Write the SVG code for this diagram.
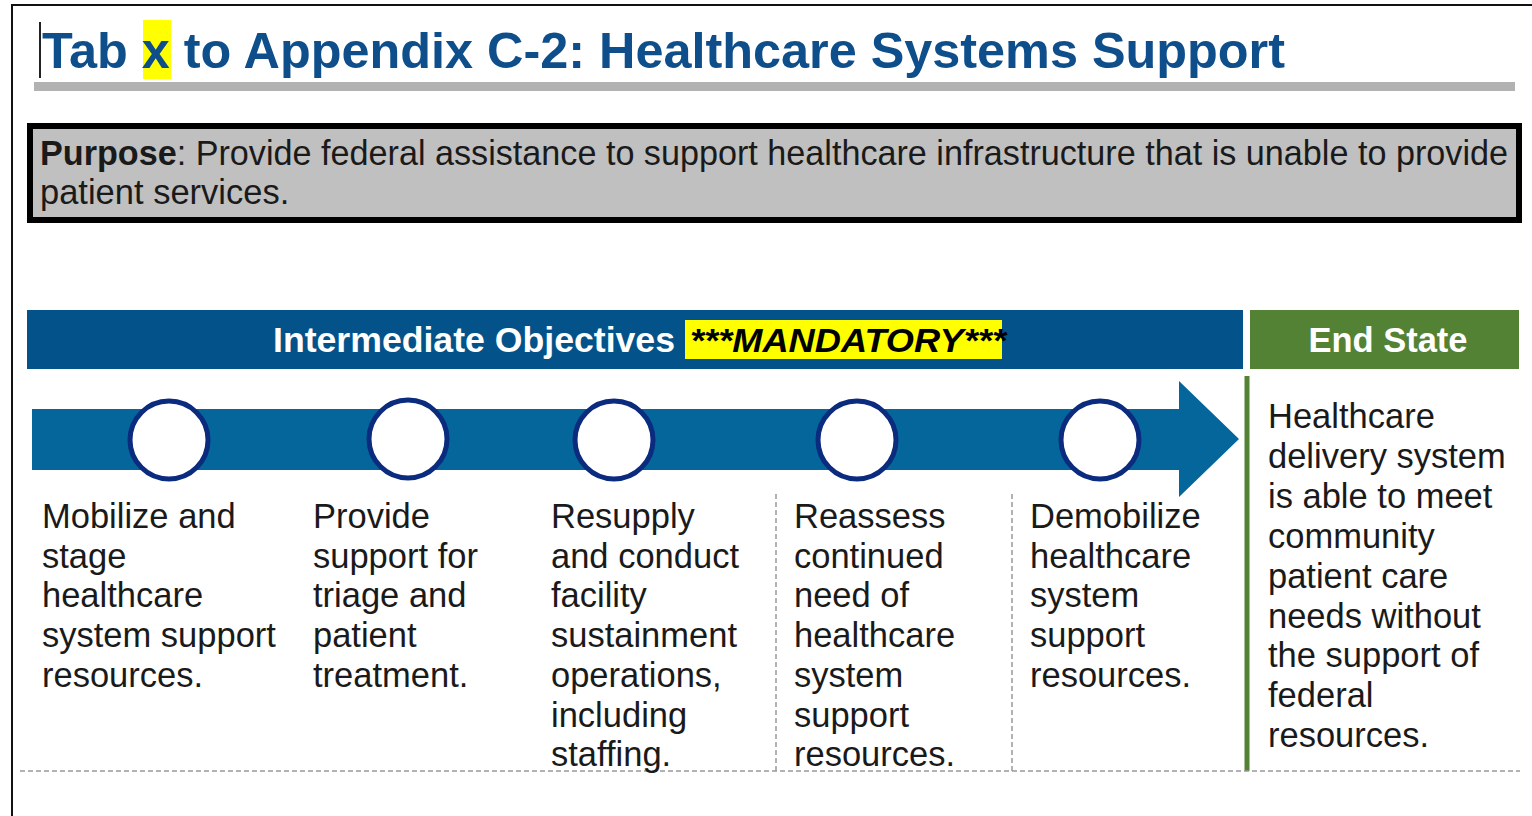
<svg xmlns="http://www.w3.org/2000/svg" width="1532" height="816" viewBox="0 0 1532 816">
<style>
.body{font-family:"Liberation Sans",Arial,sans-serif;font-size:34.5px;fill:#1a1a1a}
.hdr{font-family:"Liberation Sans",Arial,sans-serif;font-size:34.5px;font-weight:bold;fill:#ffffff}
.circ{fill:#ffffff;stroke:#0b2b7e;stroke-width:5}
.dash{stroke:#999999;stroke-width:1.5;stroke-dasharray:5,3;fill:none}
</style>
<rect x="0" y="0" width="1532" height="816" fill="#ffffff"/>
<path d="M12,816 V5 H1532" fill="none" stroke="#111111" stroke-width="2"/>
<g id="title">
<rect x="143" y="20" width="28" height="59" fill="#ffff00"/>
<line x1="40" y1="22" x2="40" y2="78" stroke="#222222" stroke-width="2"/>
<text x="42" y="68" font-family="'Liberation Sans',Arial,sans-serif" font-size="50" font-weight="bold" fill="#0e4f8b" textLength="1243" lengthAdjust="spacingAndGlyphs">Tab x to Appendix C-2: Healthcare Systems Support</text>
<rect x="34" y="82" width="1481" height="9" fill="#b2b2b2"/>
</g>
<g id="purpose">
<rect x="30" y="126" width="1489" height="94" fill="#c0c0c0" stroke="#000000" stroke-width="6"/>
<text class="body" x="40" y="165" textLength="1468" lengthAdjust="spacingAndGlyphs"><tspan font-weight="bold">Purpose</tspan>: Provide federal assistance to support healthcare infrastructure that is unable to provide</text>
<text class="body" x="40" y="204">patient services.</text>
</g>
<g id="header-objectives">
<rect x="27" y="310" width="1216" height="59" fill="#03538a"/>
<text class="hdr" x="273" y="352" textLength="402" lengthAdjust="spacingAndGlyphs">Intermediate Objectives</text>
<rect x="685" y="320" width="317" height="39" fill="#ffff00"/>
<text x="690" y="352" font-family="'Liberation Sans',Arial,sans-serif" font-size="34" font-weight="bold" font-style="italic" fill="#000000" textLength="316" lengthAdjust="spacingAndGlyphs">***MANDATORY***</text>
</g>
<g id="header-endstate">
<rect x="1250" y="310" width="269" height="59" fill="#548235"/>
<text class="hdr" x="1388" y="352" text-anchor="middle">End State</text>
</g>
<g id="connectors">
<polygon points="32,409 1179,409 1179,381 1239,439 1179,497 1179,470 32,470" fill="#04669a"/>
<line x1="1247" y1="376" x2="1247" y2="771" stroke="#548235" stroke-width="5"/>
<line class="dash" x1="20" y1="771" x2="1520" y2="771"/>
<line class="dash" x1="776" y1="494" x2="776" y2="771"/>
<line class="dash" x1="1012" y1="494" x2="1012" y2="771"/>
</g>
<g id="obj1">
<circle class="circ" cx="169" cy="440" r="39"/>
<text class="body" x="42" y="528"><tspan x="42">Mobilize and</tspan><tspan x="42" dy="39.7">stage</tspan><tspan x="42" dy="39.7">healthcare</tspan><tspan x="42" dy="39.7">system support</tspan><tspan x="42" dy="39.7">resources.</tspan></text>
</g>
<g id="obj2">
<circle class="circ" cx="408" cy="439" r="39"/>
<text class="body" x="313" y="528"><tspan x="313">Provide</tspan><tspan x="313" dy="39.7">support for</tspan><tspan x="313" dy="39.7">triage and</tspan><tspan x="313" dy="39.7">patient</tspan><tspan x="313" dy="39.7">treatment.</tspan></text>
</g>
<g id="obj3">
<circle class="circ" cx="614" cy="440" r="39"/>
<text class="body" x="551" y="528"><tspan x="551">Resupply</tspan><tspan x="551" dy="39.7">and conduct</tspan><tspan x="551" dy="39.7">facility</tspan><tspan x="551" dy="39.7">sustainment</tspan><tspan x="551" dy="39.7">operations,</tspan><tspan x="551" dy="39.7">including</tspan><tspan x="551" dy="39.7">staffing.</tspan></text>
</g>
<g id="obj4">
<circle class="circ" cx="857" cy="440" r="39"/>
<text class="body" x="794" y="528"><tspan x="794">Reassess</tspan><tspan x="794" dy="39.7">continued</tspan><tspan x="794" dy="39.7">need of</tspan><tspan x="794" dy="39.7">healthcare</tspan><tspan x="794" dy="39.7">system</tspan><tspan x="794" dy="39.7">support</tspan><tspan x="794" dy="39.7">resources.</tspan></text>
</g>
<g id="obj5">
<circle class="circ" cx="1100" cy="440" r="39"/>
<text class="body" x="1030" y="528"><tspan x="1030">Demobilize</tspan><tspan x="1030" dy="39.7">healthcare</tspan><tspan x="1030" dy="39.7">system</tspan><tspan x="1030" dy="39.7">support</tspan><tspan x="1030" dy="39.7">resources.</tspan></text>
</g>
<g id="endstate">
<text class="body" x="1268" y="428"><tspan x="1268">Healthcare</tspan><tspan x="1268" dy="39.9">delivery system</tspan><tspan x="1268" dy="39.9">is able to meet</tspan><tspan x="1268" dy="39.9">community</tspan><tspan x="1268" dy="39.9">patient care</tspan><tspan x="1268" dy="39.9">needs without</tspan><tspan x="1268" dy="39.9">the support of</tspan><tspan x="1268" dy="39.9">federal</tspan><tspan x="1268" dy="39.9">resources.</tspan></text>
</g>
</svg>
